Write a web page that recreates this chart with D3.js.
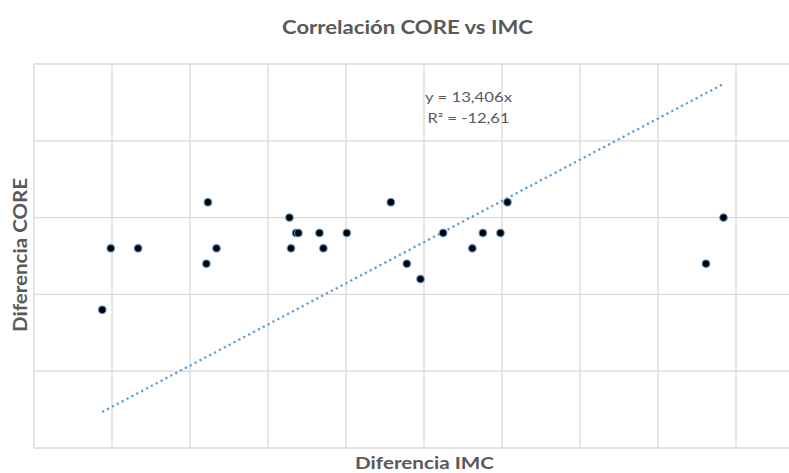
<!DOCTYPE html>
<html>
<head>
<meta charset="utf-8">
<script src="https://cdn.jsdelivr.net/npm/d3@7"></script>
<style>
  html, body { margin: 0; padding: 0; background: #fff; }
  svg { display: block; }
</style>
</head>
<body>
<svg id="chart" width="789" height="473"></svg>
<script>
// Data
const imcDiff  = [0.175, 0.197, 0.267, 0.442, 0.446, 0.468, 0.655, 0.659, 0.672, 0.678, 0.732, 0.742, 0.802, 0.915, 0.956, 0.991, 1.049, 1.124, 1.151, 1.196, 1.214, 1.723, 1.768];
const coreDiff = [9, 13, 13, 12, 16, 13, 15, 13, 14, 14, 14, 13, 14, 16, 12, 11, 14, 13, 14, 14, 16, 12, 15];
const xTicks = [0, 0.2, 0.4, 0.6, 0.8, 1.0, 1.2, 1.4, 1.6, 1.8, 2.0];
const yTicks = [0, 5, 10, 15, 20, 25];
const trendSlope = 13.406;
const trendLabel = ["y = 13,406x", "R\u00B2 = -12,61"];
const titleText = "Correlación CORE vs IMC";
const xTitle = "Diferencia IMC";
const yTitle = "Diferencia CORE";

const svg = d3.select("#chart");
const m = { left: 34, top: 64 };
const plotW = 780, plotH = 384;

const x = d3.scaleLinear().domain([0, 2]).range([m.left, m.left + plotW]);
const y = d3.scaleLinear().domain([0, 25]).range([m.top + plotH, m.top]);

const font = "Lato, 'Open Sans', sans-serif";
const grey = "#595959";

// gridlines
const grid = svg.append("g");
grid.selectAll("line.v").data(xTicks).join("line")
  .attr("x1", d => x(d)).attr("x2", d => x(d))
  .attr("y1", y(0)).attr("y2", y(25))
  .attr("stroke", "#d9d9d9").attr("stroke-width", 1.3);
grid.selectAll("line.h").data(yTicks).join("line")
  .attr("x1", x(0)).attr("x2", x(2))
  .attr("y1", d => y(d)).attr("y2", d => y(d))
  .attr("stroke", "#d9d9d9").attr("stroke-width", 1.3);

// trendline over data range
const xmin = d3.min(imcDiff), xmax = d3.max(imcDiff);
svg.append("line")
  .attr("x1", x(xmin)).attr("y1", y(trendSlope * xmin))
  .attr("x2", x(xmax)).attr("y2", y(trendSlope * xmax))
  .attr("stroke", "#5b9bd5").attr("stroke-width", 2.25)
  .attr("stroke-dasharray", "2.2,3.3");

// points
const pts = imcDiff.map((v, i) => ({ x: v, y: coreDiff[i] }));
svg.append("g").selectAll("circle").data(pts).join("circle")
  .attr("cx", d => x(d.x)).attr("cy", d => y(d.y))
  .attr("r", 3.8)
  .attr("fill", "#000")
  .attr("stroke", "#5b9bd5").attr("stroke-width", 1.3).attr("stroke-opacity", 0.8);

// trend label
const tlW = [87, 82], tlY = [101.5, 123];
trendLabel.forEach((t, i) => {
  svg.append("text").attr("x", 468.5).attr("y", tlY[i])
    .attr("text-anchor", "middle").attr("font-family", font)
    .attr("font-size", 12.5).attr("fill", grey)
    .attr("textLength", tlW[i]).attr("lengthAdjust", "spacingAndGlyphs")
    .text(t);
});

// title
svg.append("text").attr("x", 407.5).attr("y", 34)
  .attr("text-anchor", "middle").attr("font-family", font)
  .attr("font-size", 19.5).attr("font-weight", 700).attr("fill", grey)
  .attr("textLength", 251).attr("lengthAdjust", "spacingAndGlyphs")
  .text(titleText);

// axis titles
svg.append("text").attr("x", 424.5).attr("y", 469)
  .attr("text-anchor", "middle").attr("font-family", font)
  .attr("font-size", 17.5).attr("font-weight", 700).attr("fill", grey)
  .attr("textLength", 139).attr("lengthAdjust", "spacingAndGlyphs")
  .text(xTitle);
svg.append("text")
  .attr("transform", "translate(26.5,255) rotate(-90)")
  .attr("text-anchor", "middle").attr("font-family", font)
  .attr("font-size", 19.5).attr("font-weight", 700).attr("fill", grey)
  .attr("textLength", 154).attr("lengthAdjust", "spacingAndGlyphs")
  .text(yTitle);
</script>
</body>
</html>
